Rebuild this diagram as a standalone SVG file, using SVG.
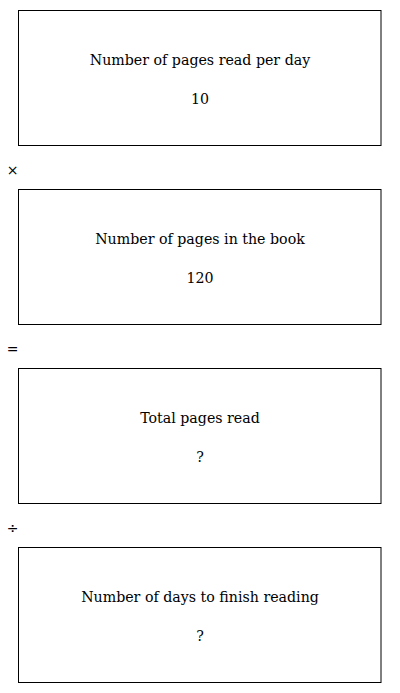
<svg xmlns="http://www.w3.org/2000/svg" width="400" height="693" viewBox="0 0 400 693">
<style>
.box{fill:#fff;stroke:#000;stroke-width:1}
.t{font-family:"DejaVu Serif","Liberation Serif",serif;font-size:14.2px;fill:#000;text-anchor:middle}
.op{font-family:"DejaVu Sans","Liberation Sans",sans-serif;font-size:14px;fill:#000;text-anchor:middle}
</style>
<rect width="400" height="693" fill="#fff"/>
<g id="node1"><rect class="box" x="18.5" y="10.5" width="362.5" height="135"/><text class="t" x="200" y="65">Number of pages read per day</text><text class="t" x="200" y="104">10</text></g>
<g id="op1"><text class="op" x="12.5" y="175">×</text></g>
<g id="node2"><rect class="box" x="18.5" y="189.5" width="362.5" height="135"/><text class="t" x="200" y="244">Number of pages in the book</text><text class="t" x="200" y="283">120</text></g>
<g id="op2"><text class="op" x="12.5" y="354">=</text></g>
<g id="node3"><rect class="box" x="18.5" y="368.5" width="362.5" height="135"/><text class="t" x="200" y="423">Total pages read</text><text class="t" x="200" y="462">?</text></g>
<g id="op3"><text class="op" x="12.5" y="533">÷</text></g>
<g id="node4"><rect class="box" x="18.5" y="547.5" width="362.5" height="135"/><text class="t" x="200" y="602">Number of days to finish reading</text><text class="t" x="200" y="641">?</text></g>
<g id="connectors"></g>
</svg>
